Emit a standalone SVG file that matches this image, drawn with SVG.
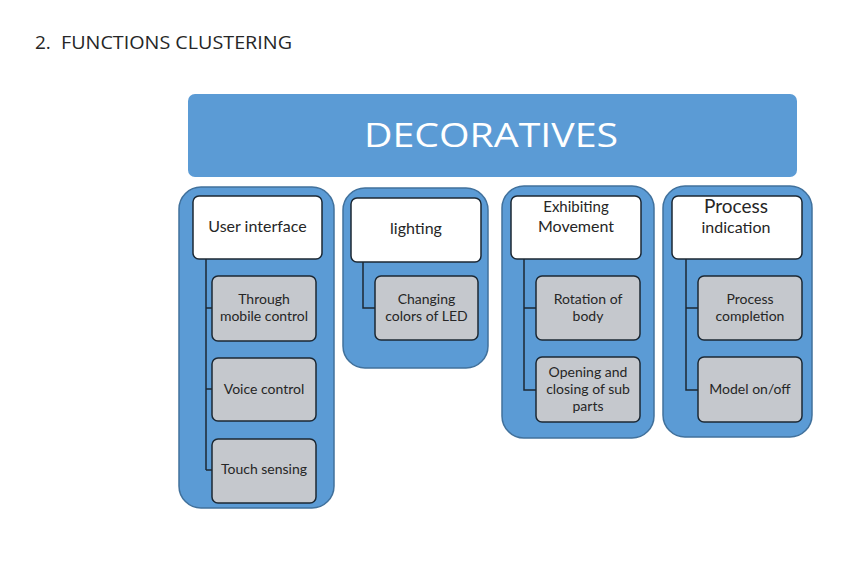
<svg xmlns="http://www.w3.org/2000/svg" width="865" height="585" viewBox="0 0 865 585">
<style>
.cont{fill:#5b9bd5;stroke:#41719c;stroke-width:1.5}
.head{fill:#ffffff;stroke:#1c2833;stroke-width:1.5}
.child{fill:#c5c8cd;stroke:#1c2833;stroke-width:1.5}
.t{font-family:Lato,"Open Sans","Liberation Sans",sans-serif;fill:#262626;text-anchor:middle}
.h{font-size:16px}
.c{font-size:14px}
.ln{fill:none;stroke:#1c2833;stroke-width:1.5}
</style>
<rect width="865" height="585" fill="#ffffff"/>
<text x="35" y="49" font-family="'Open Sans','Liberation Sans',sans-serif" font-size="19" fill="#262626">2.</text>
<text x="61" y="49" font-family="'Open Sans','Liberation Sans',sans-serif" font-size="19" fill="#262626" textLength="231" lengthAdjust="spacingAndGlyphs">FUNCTIONS CLUSTERING</text>
<g id="decoratives">
<rect x="188" y="94" width="609" height="83" rx="7" fill="#5b9bd5"/>
<text x="491" y="147" font-family="'Open Sans',Lato,'Liberation Sans',sans-serif" font-size="32" fill="#ffffff" text-anchor="middle" textLength="254" lengthAdjust="spacingAndGlyphs">DECORATIVES</text>
</g>
<g id="col1">
<rect class="cont" x="179" y="187" width="155" height="321" rx="22"/>
<rect class="head" x="193" y="196" width="129" height="63" rx="6"/>
<text class="t h" x="257.5" y="232">User interface</text>
</g>
<g id="col2">
<rect class="cont" x="343" y="188" width="145" height="180" rx="22"/>
<rect class="head" x="351" y="198" width="130" height="64" rx="6"/>
<text class="t h" x="416" y="234">lighting</text>
</g>
<g id="col3">
<rect class="cont" x="502" y="186" width="152" height="252" rx="22"/>
<rect class="head" x="511" y="196" width="130" height="63" rx="6"/>
<text class="t" x="576" y="212" font-size="15" fill="#000">Exhibiting</text>
<text class="t h" x="576" y="232">Movement</text>
</g>
<g id="col4">
<rect class="cont" x="663" y="186" width="149" height="251" rx="22"/>
<rect class="head" x="672" y="196" width="130" height="63" rx="6"/>
<text class="t" x="736" y="213" font-size="19" fill="#000">Process</text>
<text class="t h" x="736" y="233">indication</text>
</g>
<g id="connectors">
<path class="ln" d="M206,259 V470 M206,308 H212 M206,389 H212 M206,470 H212"/>
<path class="ln" d="M363,262 V308 H375"/>
<path class="ln" d="M524,259 V390 H536 M524,308 H536"/>
<path class="ln" d="M686,259 V390 H698 M686,308 H698"/>
</g>
<g id="through-mobile">
<rect class="child" x="212" y="276" width="104" height="65" rx="6"/>
<text class="t c" x="264" y="304">Through</text>
<text class="t c" x="264" y="321">mobile control</text>
</g>
<g id="voice">
<rect class="child" x="212" y="358" width="104" height="63" rx="6"/>
<text class="t c" x="264" y="394">Voice control</text>
</g>
<g id="touch">
<rect class="child" x="212" y="439" width="104" height="64" rx="6"/>
<text class="t c" x="264" y="474">Touch sensing</text>
</g>
<g id="led">
<rect class="child" x="375" y="276" width="103" height="64" rx="6"/>
<text class="t c" x="426.5" y="304">Changing</text>
<text class="t c" x="426.5" y="321">colors of LED</text>
</g>
<g id="rotation">
<rect class="child" x="536" y="276" width="104" height="64" rx="6"/>
<text class="t c" x="588" y="304">Rotation of</text>
<text class="t c" x="588" y="321">body</text>
</g>
<g id="opening">
<rect class="child" x="536" y="357" width="104" height="65" rx="6"/>
<text class="t c" x="588" y="377">Opening and</text>
<text class="t c" x="588" y="394">closing of sub</text>
<text class="t c" x="588" y="411">parts</text>
</g>
<g id="process-completion">
<rect class="child" x="698" y="276" width="104" height="64" rx="6"/>
<text class="t c" x="750" y="304">Process</text>
<text class="t c" x="750" y="321">completion</text>
</g>
<g id="model">
<rect class="child" x="698" y="357" width="104" height="65" rx="6"/>
<text class="t c" x="750" y="394">Model on/off</text>
</g>
</svg>
